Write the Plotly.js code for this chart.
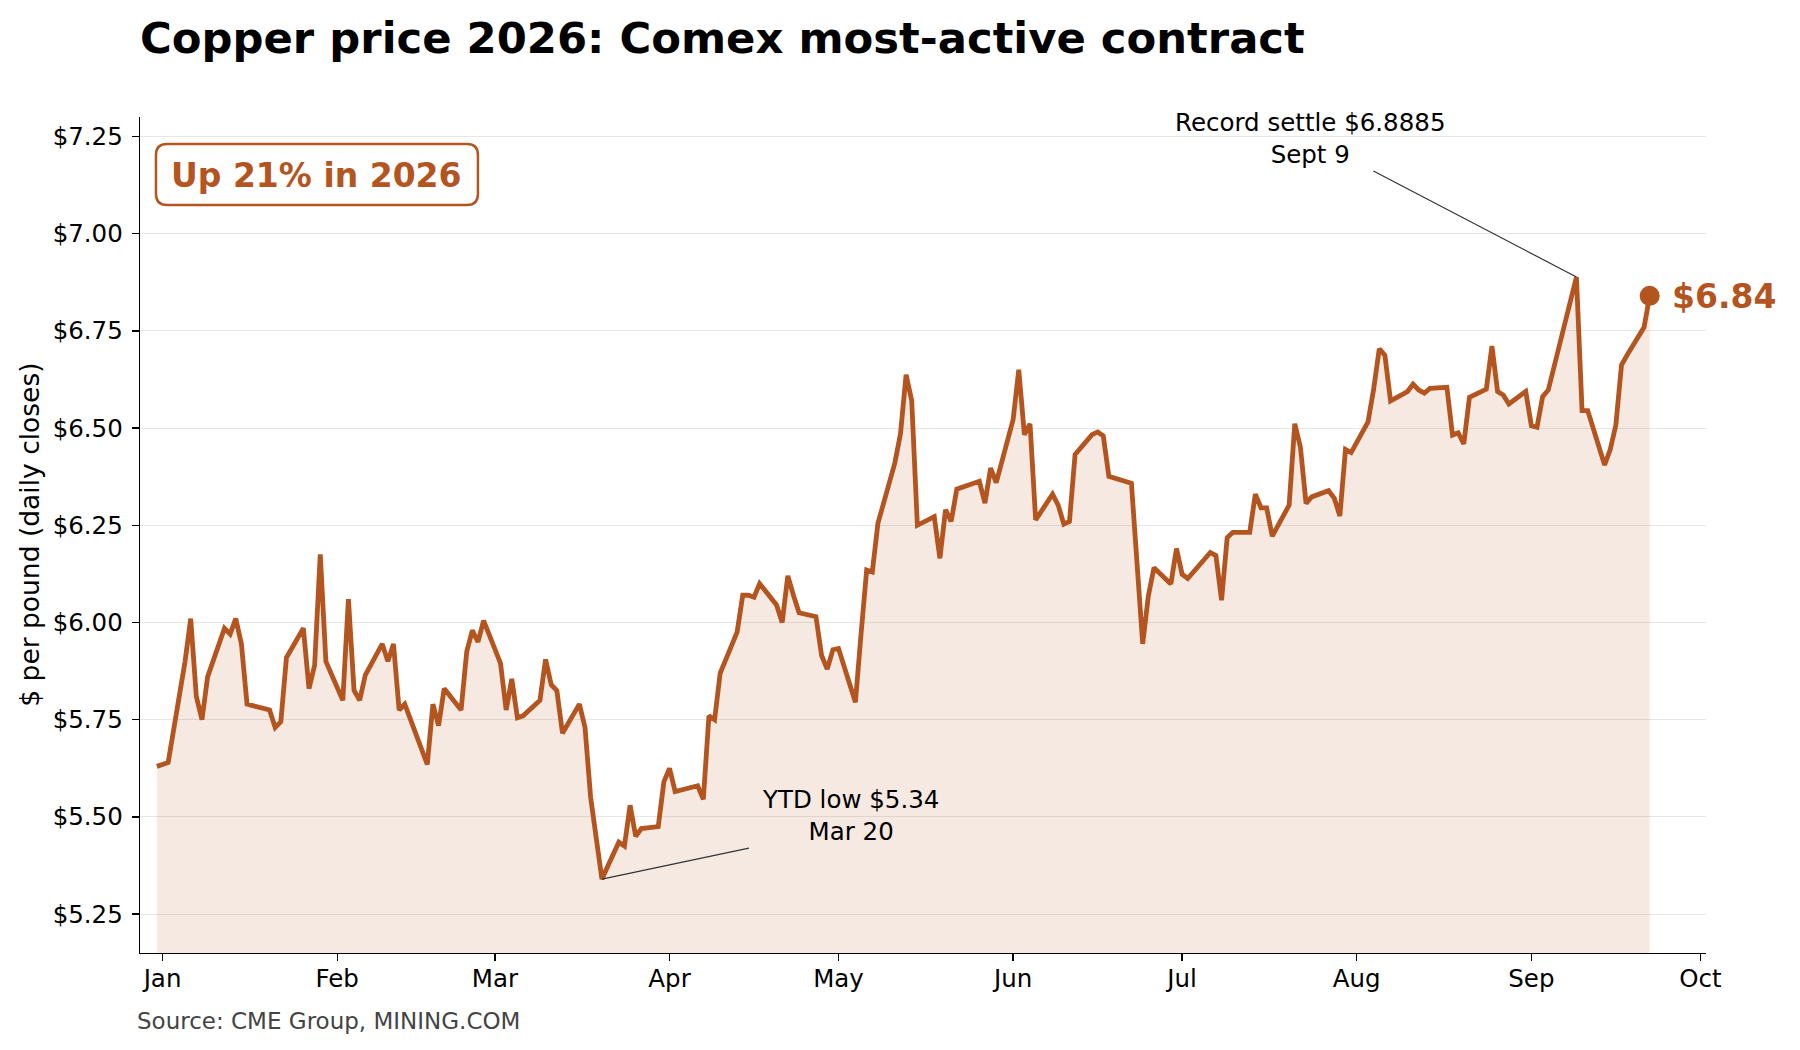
<!DOCTYPE html>
<html>
<head>
<meta charset="utf-8">
<script src="https://cdn.plot.ly/plotly-3.0.1.min.js"></script>
<style>html,body{margin:0;padding:0;background:#fff;}#chart{width:1800px;height:1050px;}</style>
</head>
<body>
<div id="chart"></div>
<script>
// ---- data (daily Comex closes, $/lb) ----
const dates = [
'2025-12-31','2026-01-02','2026-01-05','2026-01-06','2026-01-07','2026-01-08','2026-01-09',
'2026-01-12','2026-01-13','2026-01-14','2026-01-15','2026-01-16',
'2026-01-20','2026-01-21','2026-01-22','2026-01-23',
'2026-01-26','2026-01-27','2026-01-28','2026-01-29','2026-01-30',
'2026-02-02','2026-02-03','2026-02-04','2026-02-05','2026-02-06',
'2026-02-09','2026-02-10','2026-02-11','2026-02-12','2026-02-13',
'2026-02-17','2026-02-18','2026-02-19','2026-02-20',
'2026-02-23','2026-02-24','2026-02-25','2026-02-26','2026-02-27',
'2026-03-02','2026-03-03','2026-03-04','2026-03-05','2026-03-06',
'2026-03-09','2026-03-10','2026-03-11','2026-03-12','2026-03-13',
'2026-03-16','2026-03-17','2026-03-18','2026-03-19','2026-03-20',
'2026-03-23','2026-03-24','2026-03-25','2026-03-26','2026-03-27',
'2026-03-30','2026-03-31','2026-04-01','2026-04-02',
'2026-04-06','2026-04-07','2026-04-08','2026-04-09','2026-04-10',
'2026-04-13','2026-04-14','2026-04-15','2026-04-16','2026-04-17',
'2026-04-20','2026-04-21','2026-04-22','2026-04-23','2026-04-24',
'2026-04-27','2026-04-28','2026-04-29','2026-04-30','2026-05-01',
'2026-05-04','2026-05-05','2026-05-06','2026-05-07','2026-05-08',
'2026-05-11','2026-05-12','2026-05-13','2026-05-14','2026-05-15',
'2026-05-18','2026-05-19','2026-05-20','2026-05-21','2026-05-22',
'2026-05-26','2026-05-27','2026-05-28','2026-05-29',
'2026-06-01','2026-06-02','2026-06-03','2026-06-04','2026-06-05',
'2026-06-08','2026-06-09','2026-06-10','2026-06-11','2026-06-12',
'2026-06-15','2026-06-16','2026-06-17','2026-06-18',
'2026-06-22','2026-06-23','2026-06-24','2026-06-25','2026-06-26',
'2026-06-29','2026-06-30','2026-07-01','2026-07-02',
'2026-07-06','2026-07-07','2026-07-08','2026-07-09','2026-07-10',
'2026-07-13','2026-07-14','2026-07-15','2026-07-16','2026-07-17',
'2026-07-20','2026-07-21','2026-07-22','2026-07-23','2026-07-24',
'2026-07-27','2026-07-28','2026-07-29','2026-07-30','2026-07-31',
'2026-08-03','2026-08-04','2026-08-05','2026-08-06','2026-08-07',
'2026-08-10','2026-08-11','2026-08-12','2026-08-13','2026-08-14',
'2026-08-17','2026-08-18','2026-08-19','2026-08-20','2026-08-21',
'2026-08-24','2026-08-25','2026-08-26','2026-08-27','2026-08-28',
'2026-08-31','2026-09-01','2026-09-02','2026-09-03','2026-09-04',
'2026-09-08','2026-09-09','2026-09-10','2026-09-11',
'2026-09-14','2026-09-15','2026-09-16','2026-09-17','2026-09-18',
'2026-09-21','2026-09-22'
];
const closes = [
5.63,5.64,5.90,6.01,5.81,5.75,5.86,
5.985,5.97,6.01,5.945,5.79,
5.775,5.73,5.745,5.91,
5.985,5.83,5.89,6.175,5.90,
5.80,6.06,5.825,5.80,5.865,
5.945,5.90,5.945,5.775,5.79,
5.635,5.79,5.735,5.83,
5.775,5.925,5.98,5.95,6.005,
5.895,5.775,5.855,5.755,5.76,
5.80,5.905,5.84,5.825,5.715,
5.79,5.73,5.55,5.435,5.34,
5.435,5.425,5.53,5.45,5.47,
5.475,5.59,5.625,5.565,
5.58,5.545,5.76,5.75,5.87,
5.975,6.07,6.07,6.065,6.10,
6.045,6.00,6.12,6.07,6.025,
6.015,5.915,5.88,5.93,5.933,
5.795,5.97,6.135,6.13,6.255,
6.41,6.485,6.637,6.57,6.25,
6.272,6.165,6.29,6.26,6.343,
6.363,6.307,6.397,6.36,
6.522,6.65,6.483,6.511,6.264,
6.33,6.302,6.253,6.26,6.432,
6.483,6.49,6.48,6.376,
6.358,6.15,5.945,6.068,6.141,
6.099,6.19,6.124,6.113,
6.18,6.172,6.057,6.218,6.232,
6.232,6.33,6.295,6.295,6.222,
6.302,6.511,6.451,6.306,6.323,
6.339,6.32,6.274,6.445,6.437,
6.516,6.60,6.704,6.687,6.57,
6.594,6.613,6.598,6.59,6.602,
6.605,6.482,6.488,6.459,6.579,
6.60,6.711,6.594,6.585,6.562,
6.594,6.506,6.502,6.581,6.598,
6.83,6.8885,6.545,6.545,
6.405,6.445,6.508,6.662,6.688,
6.759,6.84
];
const monthTicks  = ['2026-01-01','2026-02-01','2026-03-01','2026-04-01','2026-05-01','2026-06-01','2026-07-01','2026-08-01','2026-09-01','2026-10-01'];
const monthLabels = ['Jan','Feb','Mar','Apr','May','Jun','Jul','Aug','Sep','Oct'];
const priceTicks  = [5.25,5.50,5.75,6.00,6.25,6.50,6.75,7.00,7.25];
const priceLabels = priceTicks.map(v => '$' + v.toFixed(2));

const titleText  = 'Copper price 2026: Comex most-active contract';
const boxText    = 'Up 21% in 2026';
const lowText    = 'YTD low $5.34<br>Mar 20';
const recordText = 'Record settle $6.8885<br>Sept 9';
const yTitleText = '$ per pound (daily closes)';
const sourceText = 'Source: CME Group, MINING.COM';

// ---- derived ----
const COLOR = '#B4541F';
const FONT = 'DejaVu Sans, Verdana, sans-serif';
let lowIdx = 0, hiIdx = 0;
closes.forEach((v,i) => { if (v < closes[lowIdx]) lowIdx = i; if (v > closes[hiIdx]) hiIdx = i; });
const lastIdx = closes.length - 1;

const traces = [
  {
    x: dates, y: closes, type: 'scatter', mode: 'lines',
    line: {color: COLOR, width: 4.8},
    fill: 'tozeroy', fillcolor: 'rgba(180,84,31,0.13)',
    hoverinfo: 'skip'
  },
  {
    x: [dates[lastIdx]], y: [closes[lastIdx]], type: 'scatter', mode: 'markers',
    marker: {color: COLOR, size: 20}, hoverinfo: 'skip'
  }
];

// rounded box in paper coordinates
const bx0 = 0.0102, bx1 = 0.2158, byT = 0.9677, byB = 0.8947, rx = 11/1566, ry = 11/836;
const boxPath = `M ${bx0+rx},${byT} L ${bx1-rx},${byT} Q ${bx1},${byT} ${bx1},${byT-ry} L ${bx1},${byB+ry} Q ${bx1},${byB} ${bx1-rx},${byB} L ${bx0+rx},${byB} Q ${bx0},${byB} ${bx0},${byB+ry} L ${bx0},${byT-ry} Q ${bx0},${byT} ${bx0+rx},${byT} Z`;

const layout = {
  width: 1800, height: 1050,
  margin: {l: 140, r: 94, t: 117, b: 97},
  paper_bgcolor: '#ffffff', plot_bgcolor: '#ffffff',
  showlegend: false,
  font: {family: FONT, color: '#000', size: 24},
  title: {
    text: '<b>' + titleText + '</b>',
    font: {family: FONT, size: 43.3, color: '#000'},
    x: 140/1800, xref: 'container', xanchor: 'left',
    y: 1 - 38/1050, yref: 'container', yanchor: 'middle'
  },
  xaxis: {
    type: 'date',
    range: ['2025-12-28', '2026-10-02'],
    tickmode: 'array', tickvals: monthTicks, ticktext: monthLabels,
    ticks: 'outside', ticklen: 7, tickwidth: 1.3, tickcolor: '#000',
    showline: true, linecolor: '#000', linewidth: 1.3,
    showgrid: false, zeroline: false, ticklabelstandoff: -4,
    tickfont: {family: FONT, size: 24.5, color: '#000'}
  },
  yaxis: {
    range: [5.15, 7.30],
    tickmode: 'array', tickvals: priceTicks, ticktext: priceLabels,
    ticks: 'outside', ticklen: 7, tickwidth: 1.3, tickcolor: '#000',
    showline: true, linecolor: '#000', linewidth: 1.3,
    showgrid: true, gridcolor: '#e6e6e6', gridwidth: 1,
    zeroline: false, ticklabelstandoff: 4,
    tickfont: {family: FONT, size: 24.5, color: '#000'}
  },
  shapes: [
    {type: 'path', xref: 'paper', yref: 'paper', path: boxPath,
     fillcolor: '#ffffff', line: {color: COLOR, width: 2.5}, layer: 'above'},
    {type: 'line', xref: 'x', yref: 'y', xsizemode: 'pixel', ysizemode: 'pixel',
     xanchor: dates[lowIdx], yanchor: closes[lowIdx], x0: 0, y0: 0, x1: 147, y1: 31,
     line: {color: '#333', width: 1.2}},
    {type: 'line', xref: 'x', yref: 'y', xsizemode: 'pixel', ysizemode: 'pixel',
     xanchor: dates[hiIdx], yanchor: closes[hiIdx], x0: 0, y0: 0, x1: -203, y1: 106,
     line: {color: '#333', width: 1.2}}
  ],
  annotations: [
    {xref: 'paper', yref: 'paper', x: 0.113, y: 0.9306, xanchor: 'center', yanchor: 'middle',
     text: '<b>' + boxText + '</b>', showarrow: false,
     font: {family: FONT, size: 33, color: COLOR}},
    {xref: 'x', yref: 'y', x: dates[lowIdx], y: closes[lowIdx], showarrow: false,
     xanchor: 'center', yanchor: 'middle', xshift: 249, yshift: 64, align: 'center',
     text: lowText, font: {family: FONT, size: 24.5, color: '#000'}},
    {xref: 'x', yref: 'y', x: dates[hiIdx], y: closes[hiIdx], showarrow: false,
     xanchor: 'center', yanchor: 'middle', xshift: -266, yshift: 139, align: 'center',
     text: recordText, font: {family: FONT, size: 24.5, color: '#000'}},
    {xref: 'x', yref: 'y', x: dates[lastIdx], y: closes[lastIdx], showarrow: false,
     xanchor: 'left', yanchor: 'middle', xshift: 20, yshift: -1,
     text: '<b>$' + closes[lastIdx].toFixed(2) + '</b>',
     font: {family: FONT, size: 33, color: COLOR}},
    {xref: 'paper', yref: 'paper', x: (28.7-140)/1566, y: 0.5, xanchor: 'center', yanchor: 'middle',
     textangle: -90, text: yTitleText, showarrow: false,
     font: {family: FONT, size: 26.5, color: '#000'}},
    {xref: 'paper', yref: 'paper', x: (135-140)/1566, y: (953-1021)/836, xanchor: 'left', yanchor: 'middle',
     text: sourceText, showarrow: false,
     font: {family: FONT, size: 23, color: '#444'}}
  ]
};

Plotly.newPlot('chart', traces, layout, {staticPlot: true, displayModeBar: false});
</script>
</body>
</html>
